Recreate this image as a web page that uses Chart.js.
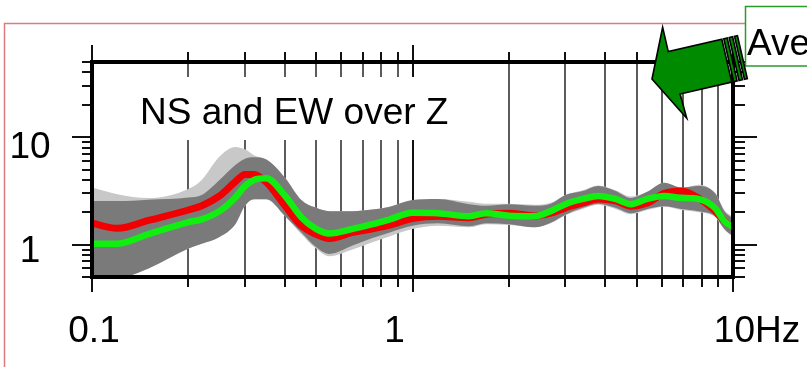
<!DOCTYPE html>
<html>
<head>
<meta charset="utf-8">
<script src="https://cdn.jsdelivr.net/npm/chart.js@4.4.1/dist/chart.umd.min.js"></script>
<style>
  body { margin: 0; background: #fff; }
  canvas { display: block; }
</style>
</head>
<body>
<canvas id="hv" width="807" height="367"></canvas>
<script>
// frequency samples (Hz)
const freqs = [0.1, 0.12, 0.15, 0.2, 0.22, 0.25, 0.28, 0.3, 0.32, 0.35, 0.4, 0.45, 0.5, 0.55, 0.65, 0.75, 0.85, 1.0,
  1.2, 1.5, 1.7, 2.0, 2.4, 2.7, 3.0, 3.4, 3.8, 4.3, 4.8, 5.4, 6.1, 6.9, 7.8, 8.8, 9.4, 10];

// average ratios
const meanRed = [1.58, 1.42, 1.68, 2.1, 2.3, 2.84, 3.85, 4.5, 4.5, 3.8, 2.3, 1.5, 1.25, 1.14, 1.3, 1.4, 1.52, 1.75,
  1.84, 1.78, 1.92, 1.96, 1.85, 1.96, 2.2, 2.44, 2.66, 2.55, 2.28, 2.44, 3.0, 3.16, 2.72, 2.05, 1.65, 1.45];
const meanGreen = [1.02, 1.02, 1.25, 1.62, 1.72, 2.05, 2.75, 3.5, 4.0, 4.15, 2.85, 1.8, 1.4, 1.27, 1.4, 1.55, 1.72, 1.98,
  1.96, 1.84, 1.96, 1.86, 1.84, 2.05, 2.38, 2.66, 2.84, 2.66, 2.38, 2.66, 2.84, 2.72, 2.66, 2.18, 1.65, 1.45];

// spread of the individual curves
const darkHi = [2.54, 2.54, 2.62, 2.75, 2.9, 4.0, 5.5, 6.3, 6.5, 6.2, 4.2, 2.6, 2.2, 2.05, 2.05, 2.12, 2.25, 2.6,
  2.66, 2.38, 2.3, 2.38, 2.3, 2.4, 2.9, 3.16, 3.52, 3.16, 2.72, 3.1, 3.76, 3.4, 3.52, 3.0, 2.05, 1.75];
const darkLo = [0.42, 0.47, 0.6, 0.92, 1.02, 1.18, 1.55, 2.3, 2.65, 2.65, 1.85, 1.3, 0.95, 0.82, 0.98, 1.15, 1.3, 1.5,
  1.58, 1.48, 1.58, 1.55, 1.45, 1.6, 1.9, 2.2, 2.4, 2.2, 1.96, 2.15, 2.28, 2.15, 2.05, 1.84, 1.4, 1.2];
const lightHi = [3.4, 2.95, 2.72, 3.3, 4.0, 6.6, 8.1, 7.7, 6.8, 6.2, 4.2, 2.6, 2.2, 2.05, 2.05, 2.12, 2.25, 2.6,
  2.66, 2.5, 2.4, 2.4, 2.35, 2.45, 2.9, 3.2, 3.55, 3.2, 2.8, 3.1, 3.76, 3.3, 3.6, 3.0, 2.1, 1.8];
const lightLo = [0.42, 0.47, 0.6, 0.92, 1.02, 1.18, 1.55, 2.3, 2.65, 2.65, 1.85, 1.25, 0.92, 0.78, 0.9, 1.05, 1.2, 1.4,
  1.5, 1.45, 1.55, 1.52, 1.45, 1.58, 1.88, 2.15, 2.35, 2.15, 1.92, 2.1, 2.25, 2.1, 2.0, 1.8, 1.38, 1.18];

// axis ticks and labels
const xTicks = [0.1, 0.2, 0.3, 0.4, 0.5, 0.6, 0.7, 0.8, 0.9, 1, 2, 3, 4, 5, 6, 7, 8, 9, 10];
const yTicks = [0.5, 0.6, 0.7, 0.8, 0.9, 1, 2, 3, 4, 5, 6, 7, 8, 9, 10, 20, 30, 40, 50];
const xLabelVals = [0.1, 1, 10];
const xLabelText = ['0.1', '1', '10Hz'];
const yLabelVals = [1, 10];
const yLabelText = ['1', '10'];

const FONT = '37px "Liberation Sans", Arial, sans-serif';

const pts = arr => freqs.map((f, i) => ({ x: f, y: arr[i] }));
const isDecade = v => Math.abs(Math.log10(v) - Math.round(Math.log10(v))) < 1e-9;

function band(arr, color, fill) {
  return {
    data: pts(arr), fill: fill, backgroundColor: color, borderColor: 'transparent',
    borderWidth: 0, pointRadius: 0, cubicInterpolationMode: 'monotone'
  };
}

function drawArrow(c, tx, ty, ang) {
  c.save();
  c.translate(tx, ty);
  c.rotate(ang);
  c.fillStyle = '#008a00';
  c.strokeStyle = '#000';
  c.lineWidth = 1.6;
  c.lineJoin = 'miter';
  c.beginPath();
  c.moveTo(0, 0);
  c.lineTo(22, -48);
  c.lineTo(22, -23);
  c.lineTo(77, -23);
  c.lineTo(77, 21);
  c.lineTo(24, 21);
  c.lineTo(25, 46);
  c.closePath();
  c.fill();
  c.stroke();
  // striped tail
  [[79, 3.5], [84.5, 3.5], [90, 3]].forEach(([u, w]) => {
    c.fillRect(u, -23, w, 44);
    c.strokeRect(u, -23, w, 44);
  });
  c.restore();
}

const decor = {
  id: 'decor',
  beforeDraw(chart) {
    const c = chart.ctx;
    c.save();
    c.fillStyle = '#fff';
    c.fillRect(0, 0, chart.width, chart.height);
    c.strokeStyle = '#e07b7b';
    c.lineWidth = 1.5;
    c.beginPath();
    c.moveTo(4.5, 400);
    c.lineTo(4.5, 23.5);
    c.lineTo(830, 23.5);
    c.stroke();
    c.restore();
  },
  beforeDatasetsDraw(chart) {
    // blank area behind the caption cuts the grid lines
    const c = chart.ctx;
    c.save();
    c.fillStyle = '#fff';
    c.fillRect(95, 77, 375, 63);
    c.restore();
  },
  afterDraw(chart) {
    const c = chart.ctx, a = chart.chartArea;
    const xs = chart.scales.x, ys = chart.scales.y;
    c.save();
    c.strokeStyle = '#111';
    c.lineWidth = 2;
    c.beginPath();
    xTicks.forEach(v => {
      const px = Math.round(xs.getPixelForValue(v));
      const big = isDecade(v);
      c.moveTo(px, a.top); c.lineTo(px, a.top - (big ? 17 : 10));
      c.moveTo(px, a.bottom); c.lineTo(px, a.bottom + (big ? 15 : 10));
    });
    yTicks.forEach(v => {
      const py = Math.round(ys.getPixelForValue(v));
      const big = isDecade(v);
      c.moveTo(a.left, py); c.lineTo(a.left - (big ? 20 : 10), py);
      c.moveTo(a.right, py); c.lineTo(a.right + (big ? 24 : 12), py);
    });
    c.stroke();

    c.lineWidth = 4;
    c.strokeStyle = '#000';
    c.strokeRect(a.left, a.top, a.right - a.left, a.bottom - a.top);

    c.fillStyle = '#000';
    c.font = FONT;
    c.textBaseline = 'alphabetic';
    c.textAlign = 'center';
    const xShift = [2, -18, 24];
    xLabelVals.forEach((v, i) => {
      c.fillText(xLabelText[i], xs.getPixelForValue(v) + xShift[i], 342);
    });
    const yDrop = [17, 21];
    yLabelVals.forEach((v, i) => {
      c.fillText(yLabelText[i], 30, ys.getPixelForValue(v) + yDrop[i]);
    });

    c.textAlign = 'left';
    c.fillText('NS and EW over Z', 140, 124);

    c.fillStyle = '#fff';
    c.fillRect(745, 6, 80, 60);
    c.strokeStyle = '#2a9a2a';
    c.lineWidth = 1.5;
    c.strokeRect(745.5, 6.5, 80, 59.5);
    c.fillStyle = '#000';
    c.fillText('Ave', 747, 55);

    drawArrow(c, 652, 79, -13 * Math.PI / 180);
    c.restore();
  }
};

new Chart(document.getElementById('hv'), {
  type: 'line',
  data: {
    datasets: [
      { data: pts(meanGreen), borderColor: '#10f010', borderWidth: 6.5, pointRadius: 0, fill: false, cubicInterpolationMode: 'monotone' },
      { data: pts(meanRed), borderColor: '#f00000', borderWidth: 7, pointRadius: 0, fill: false, cubicInterpolationMode: 'monotone' },
      band(darkHi, '#7a7a7a', '+1'),
      band(darkLo, 'transparent', false),
      band(lightHi, '#c8c8c8', '+1'),
      band(lightLo, 'transparent', false)
    ]
  },
  options: {
    responsive: false,
    animation: false,
    layout: { padding: { left: 92, top: 62, right: 74, bottom: 90 } },
    plugins: { legend: { display: false }, tooltip: { enabled: false } },
    scales: {
      x: {
        type: 'logarithmic', min: 0.1, max: 10,
        afterBuildTicks: s => { s.ticks = xTicks.map(v => ({ value: v })); },
        ticks: { display: false },
        border: { display: false },
        grid: {
          drawTicks: false,
          lineWidth: 2,
          color: ctx => {
            const v = ctx.tick ? ctx.tick.value : 0;
            if (v === 0.1 || v === 10) return 'transparent';
            return v === 1 ? '#111' : '#5c5c5c';
          }
        }
      },
      y: {
        type: 'logarithmic', min: 0.5, max: 50,
        ticks: { display: false },
        border: { display: false },
        grid: { display: false, drawTicks: false }
      }
    }
  },
  plugins: [decor]
});
</script>
</body>
</html>
